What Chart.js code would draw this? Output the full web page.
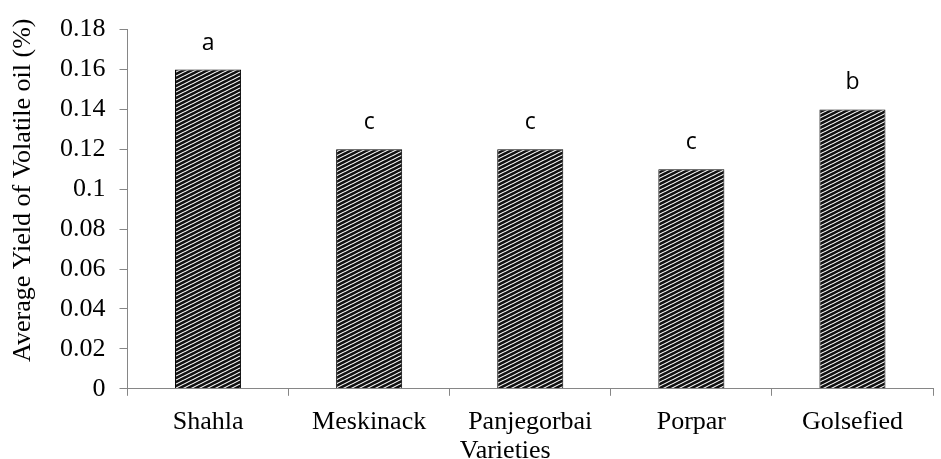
<!DOCTYPE html>
<html>
<head>
<meta charset="utf-8">
<script src="https://cdn.jsdelivr.net/npm/chart.js@4/dist/chart.umd.min.js"></script>
<style>
  html, body { margin: 0; padding: 0; background: #fff; }
  #wrap { width: 941px; height: 459px; }
</style>
</head>
<body>
<div id="wrap"><canvas id="myChart" width="941" height="459"></canvas></div>
<script>
// data
var varieties = ['Shahla', 'Meskinack', 'Panjegorbai', 'Porpar', 'Golsefied'];
var yieldValues = [0.16, 0.12, 0.12, 0.11, 0.14];
var letters = ['a', 'c', 'c', 'c', 'b'];
var yTickLabels = ['0', '0.02', '0.04', '0.06', '0.08', '0.1', '0.12', '0.14', '0.16', '0.18'];

var axisGray = '#868686';
var serif = "'Liberation Serif', 'Times New Roman', serif";

// striped fill like the excel pattern
function makeStripes() {
  var c = document.createElement('canvas');
  c.width = 8;
  c.height = 4;
  var p = c.getContext('2d');
  p.fillStyle = '#111';
  p.fillRect(0, 0, 8, 4);
  p.strokeStyle = '#fff';
  p.lineWidth = 1.1;
  p.beginPath();
  p.moveTo(0, 4); p.lineTo(8, 0);
  p.moveTo(0, 0); p.lineTo(8, -4);
  p.moveTo(0, 8); p.lineTo(8, 4);
  p.stroke();
  return p.createPattern(c, 'repeat');
}

var ctx = document.getElementById('myChart').getContext('2d');

// letters over the bars, and the two axis titles (placed like in the excel figure)
var extraText = {
  id: 'extraText',
  afterDatasetsDraw: function(chart) {
    var c = chart.ctx;
    var meta = chart.getDatasetMeta(0);
    var area = chart.chartArea;
    c.save();
    c.fillStyle = '#000';
    c.font = "23px 'Open Sans', sans-serif";
    c.textAlign = 'center';
    c.textBaseline = 'alphabetic';
    for (var i = 0; i < meta.data.length; i++) {
      var bar = meta.data[i];
      c.fillText(letters[i], bar.x, bar.y - 20);
    }
    c.font = '26px ' + serif;
    c.fillText('Varieties', (area.left + area.right) / 2 - 25, chart.height - 1);

    c.translate(23, (area.top + area.bottom) / 2 - 19);
    c.rotate(-Math.PI / 2);
    c.textBaseline = 'middle';
    c.fillText('Average Yield of Volatile oil (%)', 0, 0);
    c.restore();
  }
};

var myChart = new Chart(ctx, {
  type: 'bar',
  data: {
    labels: varieties,
    datasets: [{
      data: yieldValues,
      backgroundColor: makeStripes(),
      borderColor: '#000',
      borderWidth: 1,
      barPercentage: 0.41,
      categoryPercentage: 1.0
    }]
  },
  options: {
    responsive: false,
    animation: false,
    layout: { padding: { left: 46, right: 8, top: 18, bottom: 10 } },
    plugins: {
      legend: { display: false },
      tooltip: { enabled: false }
    },
    scales: {
      x: {
        grid: { display: true, drawOnChartArea: false, drawTicks: true, tickLength: 7, color: axisGray, offset: true },
        border: { color: axisGray, width: 1 },
        ticks: { color: '#000', font: { family: serif, size: 26 }, padding: 11, maxRotation: 0 }
      },
      y: {
        min: 0,
        max: 0.18,
        grid: { display: true, drawOnChartArea: false, drawTicks: true, tickLength: 8, color: axisGray },
        border: { color: axisGray, width: 1 },
        ticks: {
          stepSize: 0.02,
          color: '#000',
          font: { family: serif, size: 26 },
          padding: 14,
          callback: function(value, index) { return yTickLabels[index]; }
        }
      }
    }
  },
  plugins: [extraText]
});
</script>
</body>
</html>
